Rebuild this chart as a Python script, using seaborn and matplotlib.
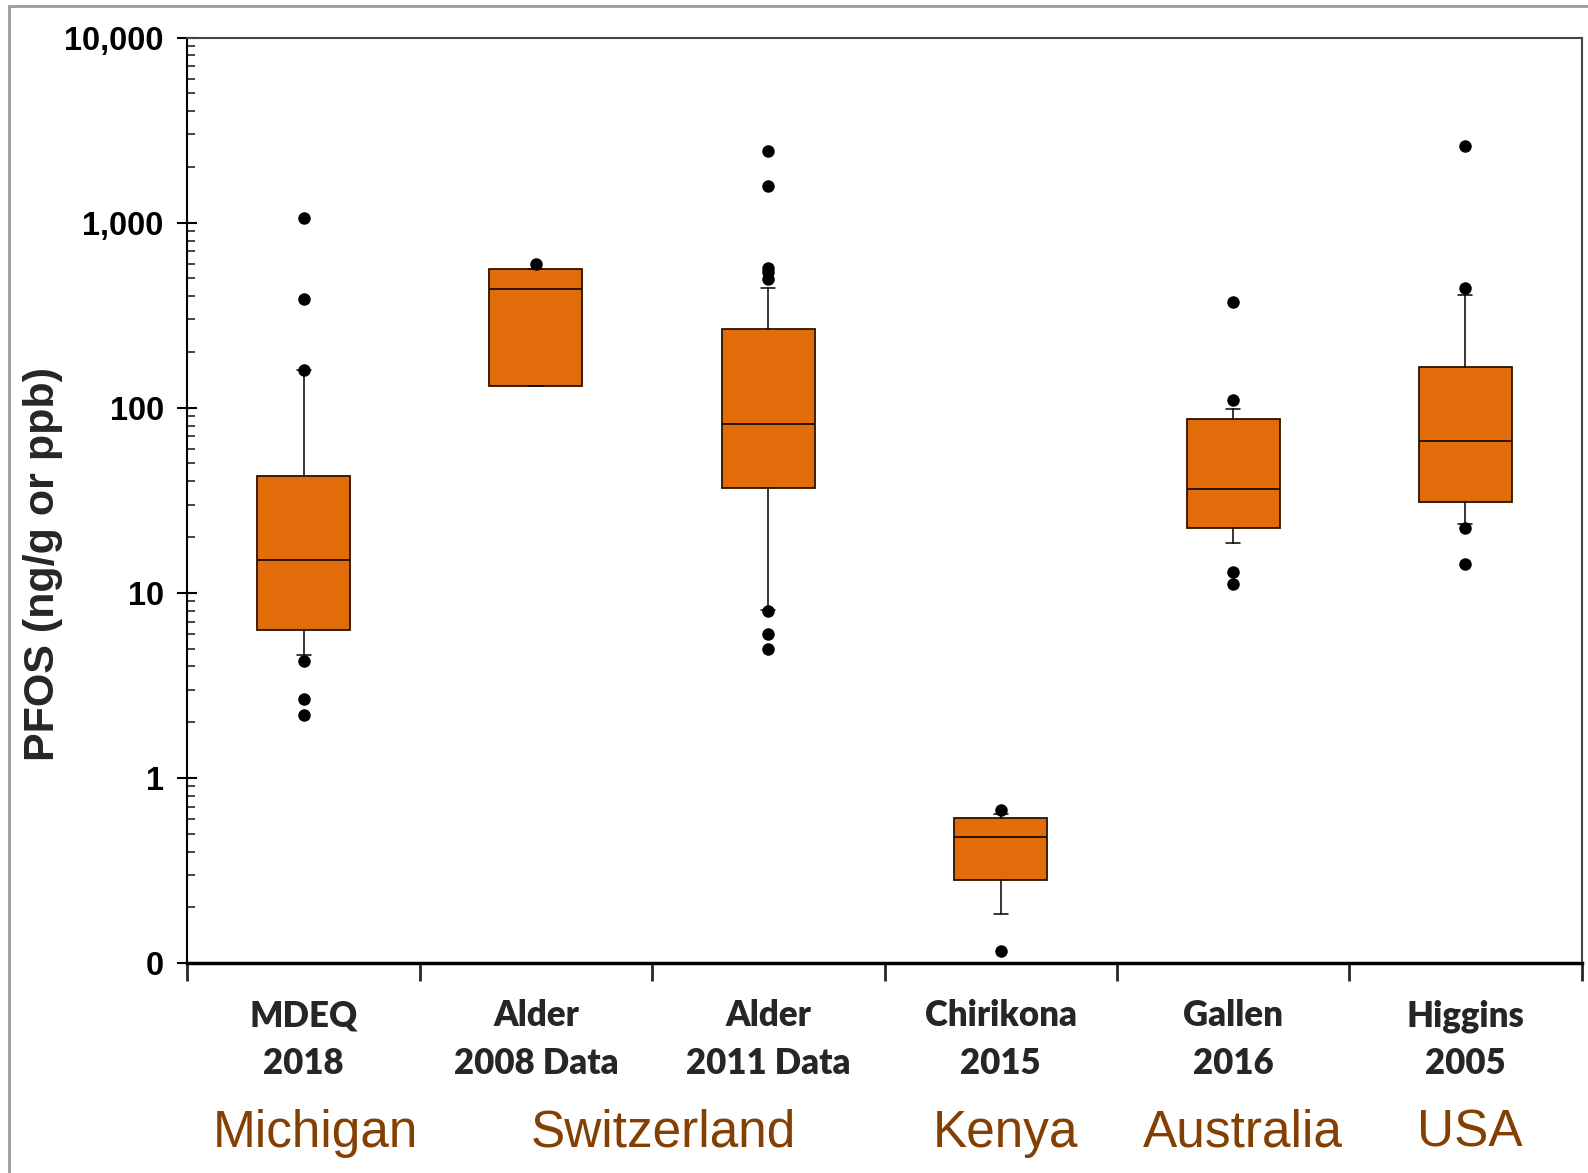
import numpy as np
import pandas as pd
import matplotlib
matplotlib.use("Agg")
import matplotlib.pyplot as plt
from matplotlib import font_manager
from matplotlib.ticker import FixedLocator, LogLocator, NullFormatter
from matplotlib.lines import Line2D
import seaborn as sns

# ---------------- data ----------------
studies = ["MDEQ\n2018", "Alder\n2008 Data", "Alder\n2011 Data",
           "Chirikona\n2015", "Gallen\n2016", "Higgins\n2005"]
regions = ["Michigan", "Switzerland", "Kenya", "Australia", "USA"]
region_pos = [0.05, 1.55, 3.02, 4.04, 5.02]

q1 = [6.3, 131, 36.7, 0.28, 22.5, 30.8]
median = [15.0, 439, 82, 0.48, 36.2, 66.3]
q3 = [42.7, 564, 265, 0.61, 86.4, 166]
whisker_lo = [4.6, 131, 8.1, 0.185, 18.6, 23.6]
whisker_hi = [160, 564, 444, 0.64, 98, 407]

outliers_mdeq = [1060, 387, 160, 4.3, 2.67, 2.18]
outliers_alder08 = [601]
outliers_alder11 = [2430, 1585, 571, 540, 497, 8.0, 6.0, 5.0]
outliers_chirikona = [0.668, 0.116]
outliers_gallen = [372, 110, 12.9, 11.1]
outliers_higgins = [2594, 444, 22.5, 14.4]

ytick_values = [0.1, 1, 10, 100, 1000, 10000]
ytick_labels = ["0", "1", "10", "100", "1,000", "10,000"]

# ---------------- figure ----------------
sns.set_theme(style="white")
plt.rcParams["font.family"] = ["Liberation Sans", "DejaVu Sans"]

installed = {f.name for f in font_manager.fontManager.ttflist}
narrow = "Liberation Sans Narrow" if "Liberation Sans Narrow" in installed else "Liberation Sans"

fig = plt.figure(figsize=(15.88, 11.73), dpi=100)
ax = fig.add_axes([0.118, 0.179, 0.878, 0.789])
ax.set_yscale("log")

box_color = "#E36C0A"
stats = []
for i in range(len(studies)):
    stats.append(dict(q1=q1[i], med=median[i], q3=q3[i],
                      whislo=whisker_lo[i], whishi=whisker_hi[i], fliers=[]))
ax.bxp(stats, positions=list(range(len(studies))), widths=0.4,
       patch_artist=True, showfliers=False,
       boxprops=dict(facecolor=box_color, edgecolor="#2b1400", linewidth=1.3),
       medianprops=dict(color="#1a0d00", linewidth=1.3),
       whiskerprops=dict(color="black", linewidth=1.1),
       capprops=dict(color="black", linewidth=1.1),
       capwidths=0.06)

all_out = [outliers_mdeq, outliers_alder08, outliers_alder11,
           outliers_chirikona, outliers_gallen, outliers_higgins]
df = pd.DataFrame({
    "study": [studies[i] for i, o in enumerate(all_out) for _ in o],
    "value": [v for o in all_out for v in o],
})
sns.stripplot(data=df, x="study", y="value", order=studies, jitter=False,
              color="black", size=9, linewidth=0, ax=ax, zorder=5)

ax.set_yscale("log")
ax.set_ylim(0.1, 10000)
ax.set_xlim(-0.5, 5.5)

# y ticks
ax.yaxis.set_major_locator(FixedLocator(ytick_values))
ax.set_yticklabels(ytick_labels, fontsize=23.5, fontweight="bold",
                   family=[narrow, "DejaVu Sans"])
ax.yaxis.set_minor_locator(LogLocator(base=10, subs=np.arange(2, 10)))
ax.yaxis.set_minor_formatter(NullFormatter())
ax.tick_params(axis="y", which="major", direction="inout", length=14,
               width=1.5, left=True, pad=10, colors="black")
ax.tick_params(axis="y", which="minor", direction="in", length=6,
               width=1.2, left=True)

# x ticks: marks at category boundaries, labels at centres
ax.xaxis.set_major_locator(FixedLocator(np.arange(-0.5, 6, 1)))
ax.xaxis.set_minor_locator(FixedLocator(np.arange(0, 6)))
ax.set_xticklabels([""] * 7, minor=False)
ax.set_xticklabels(studies, minor=True, fontsize=25, fontweight="heavy",
                   family=["Lato", "DejaVu Sans"], linespacing=1.55)
ax.tick_params(axis="x", which="minor", length=0, pad=26)
ax.tick_params(axis="x", which="major", direction="out", length=13,
               width=2, bottom=True)

ax.set_xlabel("")
ax.set_ylabel("PFOS (ng/g or ppb)", fontsize=31, fontweight="bold")
ax.yaxis.set_label_coords(-0.089, 0.431)

for side in ["top", "right"]:
    ax.spines[side].set_color("#444444")
    ax.spines[side].set_linewidth(1.5)
ax.spines["left"].set_color("black")
ax.spines["left"].set_linewidth(1.5)
ax.spines["bottom"].set_color("black")
ax.spines["bottom"].set_linewidth(2.5)

# region labels
for name, xpos in zip(regions, region_pos):
    ax.text(xpos, -0.184, name, transform=ax.get_xaxis_transform(),
            ha="center", va="center", fontsize=37, color="#843F02",
            family=[narrow, "DejaVu Sans"])

# outer frame lines
fig.add_artist(Line2D([9 / 1588, 9 / 1588], [0, 1 - 6 / 1173],
                      transform=fig.transFigure, color="#999999", lw=2))
fig.add_artist(Line2D([9 / 1588, 1], [1 - 6 / 1173, 1 - 6 / 1173],
                      transform=fig.transFigure, color="#999999", lw=2))

fig.savefig("out.png", dpi=100)
